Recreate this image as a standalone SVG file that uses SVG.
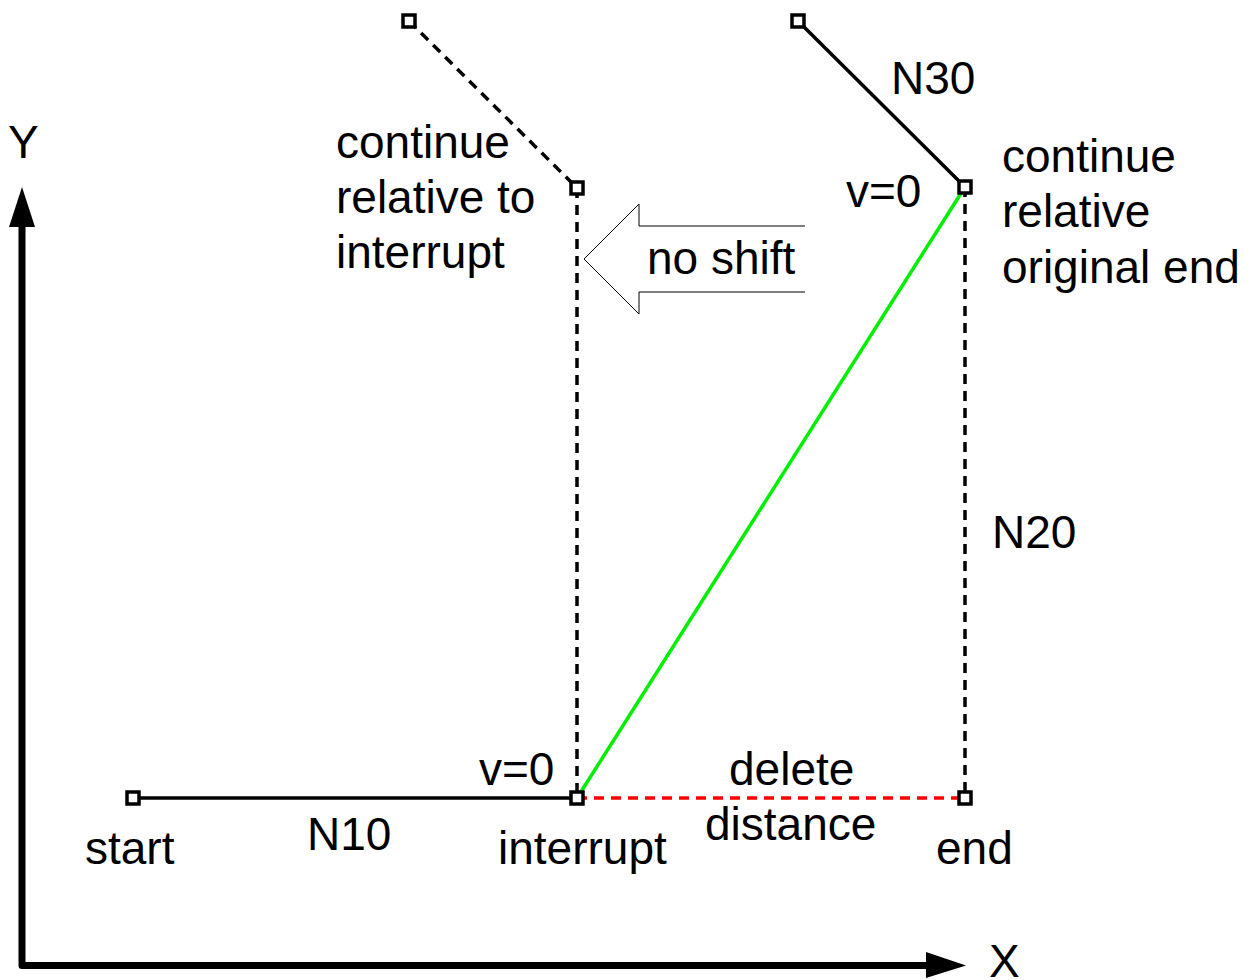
<svg xmlns="http://www.w3.org/2000/svg" width="1253" height="980" viewBox="0 0 1253 980">
<defs>
<style>
text{font-family:"Liberation Sans",Arial,sans-serif;font-size:46px;fill:#000}
.pt{fill:#fff;stroke:#000;stroke-width:3.5}
.dash{stroke:#000;stroke-width:3.5;stroke-dasharray:10,7;fill:none}
</style>
</defs>
<rect width="1253" height="980" fill="#fff"/>
<g id="axes">
<polyline points="22,226 22,965.5 928,965.5" fill="none" stroke="#000" stroke-width="7" stroke-linejoin="round"/>
<polygon points="22,187 9,227 35,227" fill="#000"/>
<polygon points="966,965.5 926,952 926,978" fill="#000"/>
<text x="8" y="158">Y</text>
<text x="989" y="977">X</text>
</g>
<g id="connectors">
<line x1="133" y1="798" x2="577" y2="798" stroke="#000" stroke-width="3.5"/>
<line x1="577" y1="798" x2="965" y2="798" stroke="#f00" stroke-width="3.5" stroke-dasharray="10,7"/>
<line x1="577" y1="188" x2="577" y2="798" class="dash"/>
<line x1="965" y1="187" x2="965" y2="798" class="dash"/>
<line x1="409" y1="21" x2="577" y2="188" class="dash"/>
<line x1="798" y1="21" x2="965" y2="187" stroke="#000" stroke-width="3.5"/>
<line x1="577" y1="798" x2="965" y2="187" stroke="#0e0" stroke-width="3.5"/>
</g>
<g id="noshift">
<polyline points="805,226 639,226 639,204 584,259 639,314 639,292 805,292" fill="none" stroke="#000" stroke-width="1"/>
<text x="647" y="274">no shift</text>
</g>
<g id="p-start"><rect class="pt" x="127" y="792" width="12" height="12"/><text x="85" y="864">start</text></g>
<g id="p-interrupt"><rect class="pt" x="571" y="792" width="12" height="12"/><text x="498" y="864">interrupt</text><text x="479" y="785">v=0</text></g>
<g id="p-end"><rect class="pt" x="959" y="792" width="12" height="12"/><text x="936" y="864">end</text></g>
<g id="p-int-top"><rect class="pt" x="571" y="182" width="12" height="12"/><text x="336" y="158">continue</text><text x="336" y="213">relative to</text><text x="336" y="268">interrupt</text></g>
<g id="p-end-top"><rect class="pt" x="959" y="181" width="12" height="12"/><text x="846" y="207">v=0</text><text x="1002" y="172">continue</text><text x="1002" y="227">relative</text><text x="1002" y="283">original end</text></g>
<g id="p-n30a"><rect class="pt" x="403" y="15" width="12" height="12"/></g>
<g id="p-n30b"><rect class="pt" x="792" y="15" width="12" height="12"/></g>
<g id="labels">
<text x="891" y="94">N30</text>
<text x="992" y="548">N20</text>
<text x="307" y="850">N10</text>
<text x="729" y="785">delete</text>
<text x="705" y="840">distance</text>
</g>
</svg>
